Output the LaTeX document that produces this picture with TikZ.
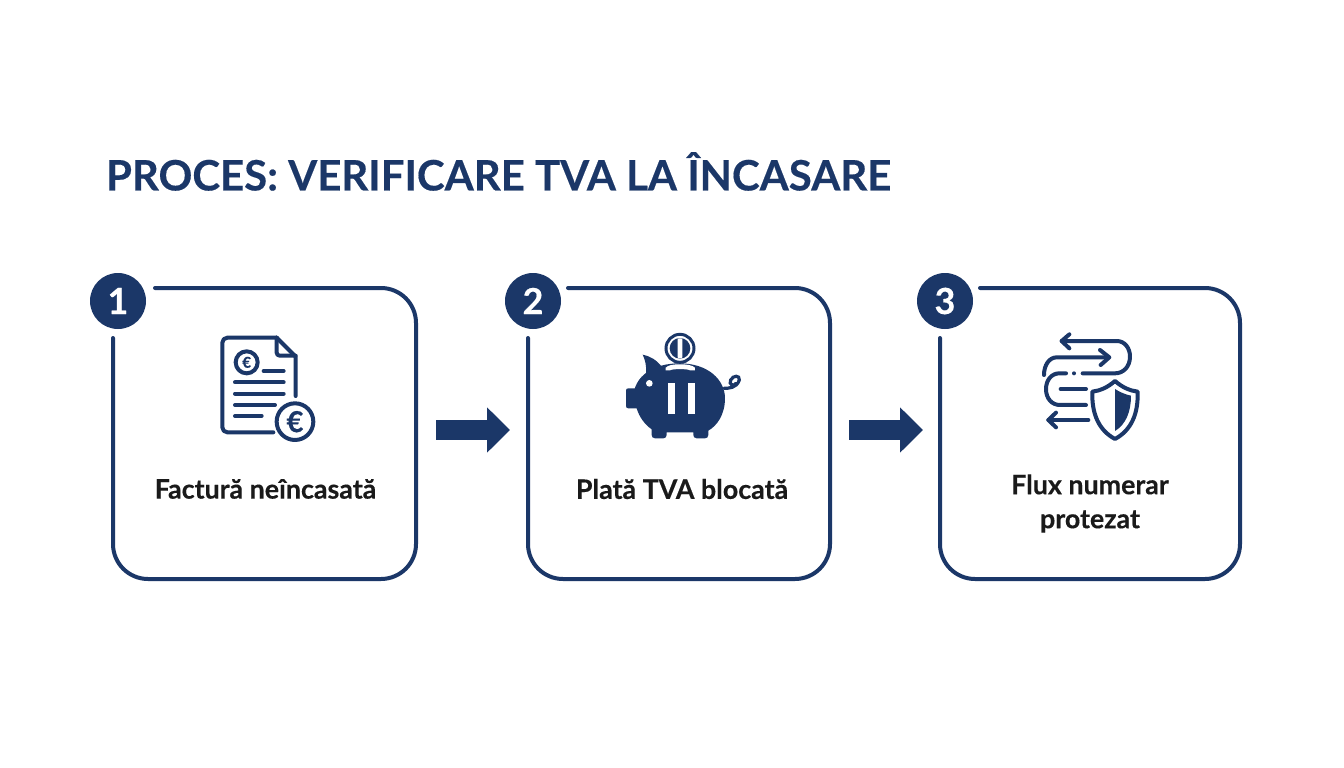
\documentclass[tikz,border=0pt]{standalone}
\usepackage{fontspec}
\setmainfont{Lato}[BoldFeatures={FakeBold=0.35}]
\usetikzlibrary{arrows.meta}
\definecolor{navy}{HTML}{1B3768}
\definecolor{ink}{HTML}{1A1A1A}
\tikzset{
  x=1pt,y=-1pt,
  frame/.style={draw=navy,line width=4pt,rounded corners=35pt,line cap=round},
  boxarea/.style={inner sep=0pt,minimum width=300pt,minimum height=290pt},
  badge/.style={circle,fill=navy,text=white,minimum size=56pt,inner sep=0pt,font=\bfseries\fontsize{36}{36}\selectfont},
  step label/.style={align=center,text=ink,font=\bfseries\fontsize{26.8}{34}\selectfont},
  flow/.style={-{Triangle[length=23pt,width=44pt]},navy,line width=20pt},
  ico/.style={draw=navy,line width=4pt,line cap=round,line join=round},
  icoscale/.style={x=0.3333pt,y=-0.3333pt}
}
\begin{document}
\begin{tikzpicture}
\useasboundingbox (0,0) rectangle (1344,768);
\fill[white] (0,0) rectangle (1344,768);

\node[anchor=west,text=navy,font=\bfseries\fontsize{41.9}{42}\selectfont] (title) at (102.5,171.5) {PROCES: VERIFICARE TVA LA ÎNCASARE};

% boxes
\node[boxarea] (box1) at (264.5,433.5) {};
\node[boxarea] (box2) at (679,433.5) {};
\node[boxarea] (box3) at (1090,433.5) {};
\draw[frame] (155,288) -- (416,288) -- (416,579) -- (113,579) -- (113,338);
\draw[frame] (568,288) -- (830,288) -- (830,579) -- (528,579) -- (528,338);
\draw[frame] (980,288) -- (1240,288) -- (1240,579) -- (940,579) -- (940,338);

\node[badge] (b1) at (118,301) {1};
\node[badge] (b2) at (533,301) {2};
\node[badge] (b3) at (945,301) {3};

\node[step label] (t1) at (265.5,489) {Factură neîncasată};
\node[step label] (t2) at (682,489) {Plată TVA blocată};
\node[step label] (t3) at (1090,503.5) {Flux numerar\\protezat};

% connectors
\coordinate (a1s) at (436,430);
\coordinate (a1e) at (510,430);
\coordinate (a2s) at (849,430);
\coordinate (a2e) at (923,430);
\draw[flow] (a1s) -- (a1e);
\draw[flow] (a2s) -- (a2e);

% invoice icon
\begin{scope}[shift={(205,325)},icoscale]
\draw[ico,rounded corners=5pt] (205,322) -- (52,322) -- (52,38) -- (215,38);
\draw[ico] (215,38) -- (272,95) -- (272,213);
\draw[ico,rounded corners=3pt] (215,38) -- (215,92) -- (272,92);
\draw[ico] (125,112) circle[radius=33];
\node[text=navy,font=\bfseries\fontsize{15}{15}\selectfont] (e1) at (125,112) {€};
\draw[ico] (176,138) -- (236,138);
\draw[ico] (90,172) -- (236,172);
\draw[ico] (90,206) -- (236,206);
\draw[ico] (90,240) -- (210,240);
\draw[ico] (90,273) -- (170,273);
\draw[ico] (270,290) circle[radius=55];
\node[text=navy,font=\bfseries\fontsize{29}{29}\selectfont] (e2) at (270,290) {€};
\end{scope}

% piggy icon
\begin{scope}[shift={(600,320)},icoscale]
\fill[navy] (100,235) .. controls (100,165) and (165,130) .. (238,130) .. controls (325,130) and (375,180) .. (375,235) .. controls (375,285) and (350,318) .. (325,332) -- (325,345) .. controls (325,352) and (320,355) .. (315,355) -- (290,355) .. controls (283,355) and (280,350) .. (280,345) -- (280,337) -- (200,337) -- (200,345) .. controls (200,352) and (195,355) .. (190,355) -- (165,355) .. controls (158,355) and (155,350) .. (155,345) -- (155,328) .. controls (135,314) and (118,292) .. (110,265) -- (85,265) .. controls (80,265) and (78,262) .. (78,258) -- (78,212) .. controls (78,207) and (80,205) .. (85,205) -- (105,205) -- cycle;
\fill[navy] (128,104) .. controls (150,108) and (170,120) .. (185,140) -- (135,180) .. controls (142,150) and (138,125) .. (128,104) -- cycle;
\fill[white] (197,143) .. controls (205,136) and (215,133) .. (240,133) .. controls (265,133) and (277,136) .. (285,143) -- (285,151) -- (270,151) .. controls (262,146) and (218,146) .. (210,151) -- (197,151) -- cycle;
\fill[white] (148,190) circle[radius=10];
\fill[white] (203,190) rectangle (225,283);
\fill[white] (263,190) rectangle (285,283);
\draw[navy,line width=3pt] (240,85) circle[radius=42];
\fill[navy] (240,85) circle[radius=31];
\fill[white,rounded corners=1pt] (233,55) rectangle (247,115);
\draw[navy,line width=3.2pt,line cap=round] (372,205) .. controls (385,205) and (410,205) .. (418,180) .. controls (420,165) and (400,165) .. (392,180) .. controls (385,195) and (402,200) .. (408,190);
\end{scope}

% flow and shield icon
\begin{scope}[shift={(1020,325)},icoscale]
\draw[ico] (125,48) -- (290,48) .. controls (315,48) and (330,70) .. (330,95) .. controls (330,125) and (310,145) .. (285,145) -- (188,145);
\draw[ico] (148,28) -- (125,48) -- (148,70);
\draw[ico] (262,97) -- (110,97) .. controls (88,97) and (72,120) .. (72,150);
\draw[ico] (240,75) -- (268,97) -- (242,120);
\fill[navy] (162,145) circle[radius=6];
\draw[ico] (138,145) -- (118,145) .. controls (95,145) and (78,165) .. (78,192) .. controls (78,220) and (95,240) .. (120,240) -- (198,240);
\draw[ico] (122,192) -- (198,192);
\draw[ico] (85,285) -- (205,285);
\draw[ico] (108,263) -- (85,285) -- (108,307);
\draw[ico,fill=white] (285,168) .. controls (262,188) and (240,197) .. (217,200) .. controls (215,265) and (235,315) .. (285,342) .. controls (335,315) and (355,265) .. (353,200) .. controls (330,197) and (308,188) .. (285,168) -- cycle;
\fill[navy] (285,192) .. controls (300,202) and (318,209) .. (333,212) .. controls (333,260) and (318,298) .. (285,318) -- cycle;
\end{scope}
\end{tikzpicture}
\end{document}
